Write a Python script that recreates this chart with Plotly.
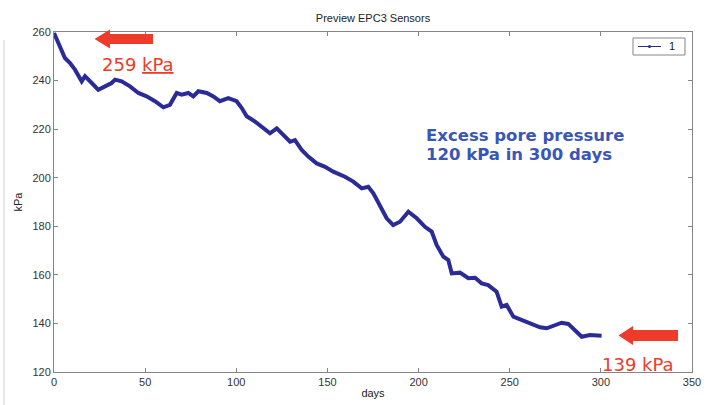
import plotly.graph_objects as go

days = [0, 3.3, 6, 8.8, 11.5, 15.2, 17, 20.7, 24.3, 28, 31.6, 33.5, 37.1, 41.7, 46.3,
        50.8, 55.4, 60, 63.6, 67.3, 70, 73.7, 76.4, 79.2, 83.8, 87.4, 91, 95.6, 100.2,
        103, 105.7, 110.3, 114.8, 118.5, 122.2, 125.8, 129.5, 132.2, 135.9, 139.5,
        144.1, 148.7, 153.2, 159.6, 164.2, 168.8, 172.4, 175.2, 178.8, 182.5, 186.1,
        189.8, 194.4, 199, 203.5, 207.2, 209.9, 213.6, 216.3, 218.2, 222.7, 227.3,
        231, 234.6, 238.2, 242.8, 245.6, 248.3, 252, 256.5, 262, 266.6, 270.3, 273.9,
        278.5, 282.1, 285.8, 289.5, 294, 300.4]
kpa = [259.6, 253.4, 249.3, 247.2, 244.5, 239.7, 241.8, 239, 236.2, 237.6, 239, 240.4,
       239.7, 237.6, 234.9, 233.5, 231.5, 229, 230, 234.9, 234.2, 234.9, 233.5, 235.6,
       234.9, 233.5, 231.5, 232.8, 231.5, 228.7, 225.3, 223.1, 220.3, 218.3, 220.3,
       217.6, 214.8, 215.5, 211.4, 208.7, 205.9, 204.5, 202.5, 200.4, 198.4, 195.6,
       196.3, 193.6, 188.1, 183.3, 180.5, 181.9, 186, 183.3, 179.8, 177.8, 172.3,
       167.5, 166.1, 160.6, 160.9, 158.6, 158.8, 156.5, 155.8, 153.1, 146.9, 147.6,
       142.8, 141.4, 140.1, 138.4, 138, 139, 140.3, 139.8, 137, 134.5, 135.2, 134.9]

x_ticks = [0, 50, 100, 150, 200, 250, 300, 350]
y_ticks = [120, 140, 160, 180, 200, 220, 240, 260]
legend_label = "1"

W, H = 712, 405
L, R, T, B = 54, 20, 32, 33
PW, PH = W - L - R, H - T - B


def px(xp, yp):
    return (xp - L) / PW, (H - B - yp) / PH


def arrow_path(tip_x, tip_y, head_x, shaft_end_x, head_half, shaft_half):
    pts = [(tip_x, tip_y), (head_x, tip_y - head_half), (head_x, tip_y - shaft_half),
           (shaft_end_x, tip_y - shaft_half), (shaft_end_x, tip_y + shaft_half),
           (head_x, tip_y + shaft_half), (head_x, tip_y + head_half)]
    conv = [px(a, b) for a, b in pts]
    return "M " + " L ".join(f"{a:.4f},{b:.4f}" for a, b in conv) + " Z"


NAVY = "#2b2b98"
RED = "#ee3b2a"
BLUE = "#3a56b4"
FONT = "Liberation Sans, Arial"
GRAY = "#858585"

fig = go.Figure()
fig.add_trace(go.Scatter(x=days, y=kpa, mode="lines", line=dict(color=NAVY, width=4),
                         name=legend_label, showlegend=False))

axis_common = dict(showline=True, linecolor=GRAY, linewidth=1, mirror="ticks",
                   ticks="inside", ticklen=4, tickcolor=GRAY, showgrid=False,
                   zeroline=False, automargin=False,
                   tickfont=dict(family=FONT, size=11, color="#333"))

# legend box (drawn manually to match the compact MATLAB legend)
lx0, ly0 = px(633, 38)
lx1, ly1 = px(685, 55)
llx0, lly = px(638, 46.5)
llx1, _ = px(661, 46.5)
dot = [px(648, 45), px(651, 48)]

fig.update_layout(
    width=W, height=H,
    margin=dict(l=L, r=R, t=T, b=B, autoexpand=False),
    paper_bgcolor="white", plot_bgcolor="white",
    showlegend=False,
    title=dict(text="Preview EPC3 Sensors", x=(L + PW / 2) / W, xanchor="center",
               y=1 - 18 / H, yanchor="middle",
               font=dict(family=FONT, size=11, color="#222")),
    xaxis=dict(range=[0, 350], tickvals=x_ticks, ticktext=[str(v) for v in x_ticks],
               title=dict(text="days", standoff=2, font=dict(family=FONT, size=11, color="#222")),
               **axis_common),
    yaxis=dict(range=[120, 260], tickvals=y_ticks, ticktext=[str(v) for v in y_ticks],
               title=dict(text="kPa", standoff=7, font=dict(family=FONT, size=11, color="#222")),
               **axis_common),
    shapes=[
        dict(type="path", xref="paper", yref="paper",
             path=arrow_path(94.5, 39, 110, 153, 9.5, 5), fillcolor=RED, line=dict(width=0)),
        dict(type="path", xref="paper", yref="paper",
             path=arrow_path(618.5, 335.5, 633, 678, 9.5, 5.5), fillcolor=RED, line=dict(width=0)),
        dict(type="line", xref="paper", yref="paper", x0=px(4, 0)[0], x1=px(4, 0)[0],
             y0=px(0, 40)[1], y1=px(0, H)[1], line=dict(color="#cfcfcf", width=1)),
        dict(type="rect", xref="paper", yref="paper", x0=lx0, y0=ly0, x1=lx1, y1=ly1,
             fillcolor="white", line=dict(color=GRAY, width=1)),
        dict(type="line", xref="paper", yref="paper", x0=llx0, x1=llx1, y0=lly, y1=lly,
             line=dict(color=NAVY, width=1)),
        dict(type="circle", xref="paper", yref="paper", x0=dot[0][0], y0=dot[0][1],
             x1=dot[1][0], y1=dot[1][1], fillcolor=NAVY, line=dict(color=NAVY, width=0)),
    ],
    annotations=[
        dict(text=legend_label, xref="paper", yref="paper", x=px(667, 46.5)[0], y=px(667, 46.5)[1],
             xanchor="left", yanchor="middle", showarrow=False,
             font=dict(family=FONT, size=11, color="#222")),
        dict(text="259 <u>kPa</u>", xref="paper", yref="paper", x=px(138, 64)[0], y=px(138, 64)[1],
             xanchor="center", yanchor="middle", showarrow=False,
             font=dict(family="DejaVu Sans", size=18, color=RED)),
        dict(text="139 kPa", xref="paper", yref="paper", x=px(638, 364)[0], y=px(638, 364)[1],
             xanchor="center", yanchor="middle", showarrow=False,
             font=dict(family="DejaVu Sans", size=18, color=RED)),
        dict(text="<b>Excess pore pressure</b>", xref="paper", yref="paper",
             x=px(424, 135)[0], y=px(424, 135)[1], xanchor="left", yanchor="middle",
             align="left", showarrow=False,
             font=dict(family="DejaVu Sans", size=16.5, color=BLUE)),
        dict(text="<b>120 kPa in 300 days</b>", xref="paper", yref="paper",
             x=px(424, 154)[0], y=px(424, 154)[1], xanchor="left", yanchor="middle",
             align="left", showarrow=False,
             font=dict(family="DejaVu Sans", size=16.5, color=BLUE)),
    ],
)

fig.write_html("out.html", config={"displayModeBar": False},
               post_script="document.body.style.margin='0';document.body.style.padding='0';")
